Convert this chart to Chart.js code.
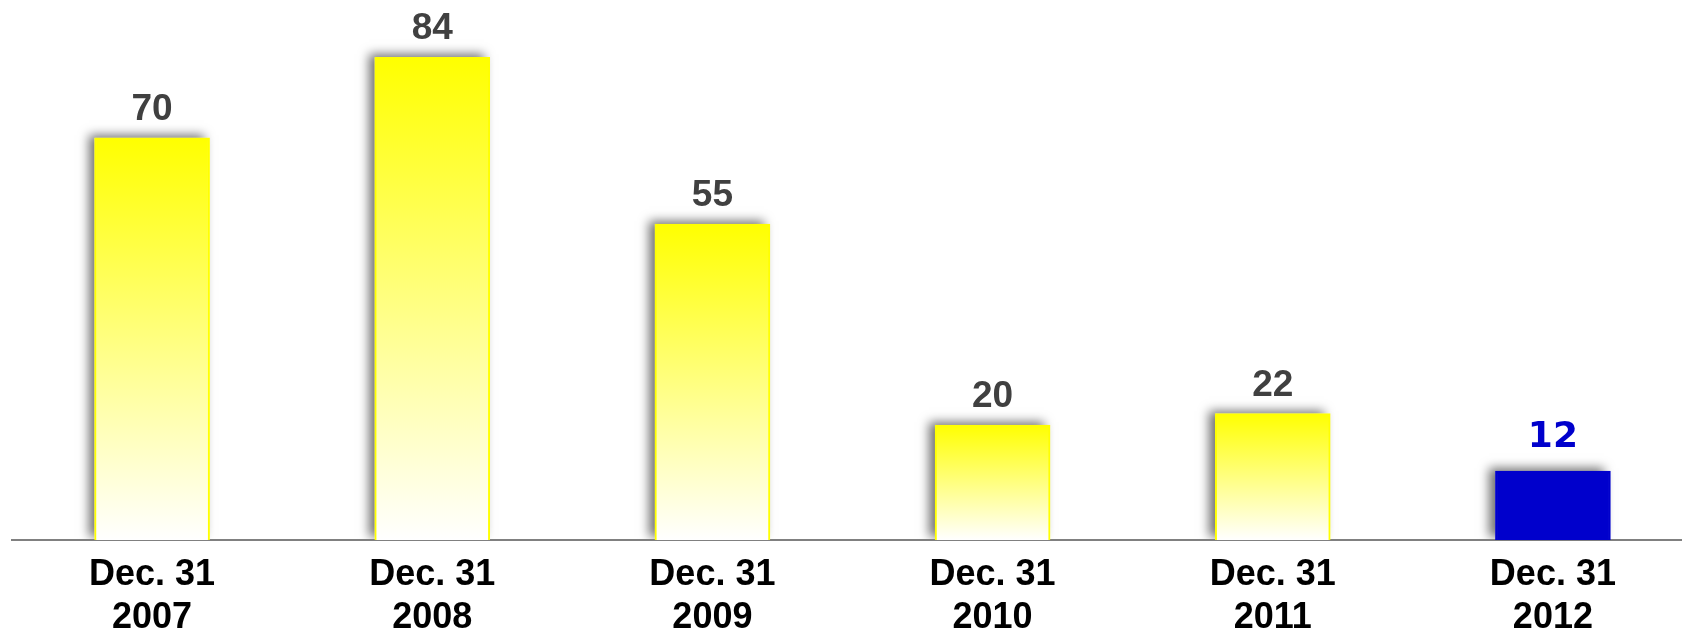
<!DOCTYPE html>
<html>
<head>
<meta charset="utf-8">
<script src="https://cdn.jsdelivr.net/npm/chart.js@4/dist/chart.umd.min.js"></script>
<style>
  html, body { margin: 0; padding: 0; background: #ffffff; overflow: hidden; }
  #wrap { position: relative; width: 1693px; height: 637px; }
</style>
</head>
<body>
<div id="wrap"><canvas id="c"></canvas></div>
<script>
// ---- data ----
const dateLine = 'Dec. 31';
const years = ['2007', '2008', '2009', '2010', '2011', '2012'];
const values = [70, 84, 55, 20, 22, 12];
const highlightIndex = 5;

const categories = years.map(y => [dateLine, y]);

const YELLOW = '#FFFF00';
const BLUE = '#0000CC';

function barFill(ctx) {
  if (ctx.dataIndex === highlightIndex) return BLUE;
  const chart = ctx.chart;
  if (!chart.chartArea || !chart.scales.y) return YELLOW;
  const ys = chart.scales.y;
  const top = ys.getPixelForValue(ctx.raw);
  const bottom = ys.getPixelForValue(0);
  const g = chart.ctx.createLinearGradient(0, top, 0, bottom);
  g.addColorStop(0, YELLOW);
  g.addColorStop(1, '#FFFFFF');
  return g;
}

const shadowPlugin = {
  id: 'barShadow',
  beforeDatasetsDraw(chart) {
    const ctx = chart.ctx;
    const meta = chart.getDatasetMeta(0);
    const ca = chart.chartArea;
    ctx.save();
    ctx.beginPath();
    ctx.rect(ca.left - 20, 0, ca.right - ca.left + 40, ca.bottom - 1);
    ctx.clip();
    meta.data.forEach(bar => {
      const w = bar.width;
      ctx.save();
      ctx.shadowColor = 'rgba(0,0,0,0.55)';
      ctx.shadowBlur = 10;
      ctx.shadowOffsetX = -6;
      ctx.shadowOffsetY = -3;
      ctx.fillStyle = '#ffffff';
      ctx.fillRect(bar.x - w / 2, bar.y, w, bar.base - bar.y);
      ctx.restore();
    });
    ctx.restore();
  }
};

const valueLabelPlugin = {
  id: 'valueLabels',
  afterDatasetsDraw(chart) {
    const ctx = chart.ctx;
    const meta = chart.getDatasetMeta(0);
    ctx.save();
    ctx.textAlign = 'center';
    ctx.textBaseline = 'alphabetic';
    meta.data.forEach((bar, i) => {
      const v = chart.data.datasets[0].data[i];
      if (i === highlightIndex) {
        ctx.fillStyle = BLUE;
        ctx.font = 'bold 36px "DejaVu Sans"';
        ctx.fillText(String(v), bar.x, bar.y - 24);
      } else {
        ctx.fillStyle = '#404040';
        ctx.font = 'bold 37px "Liberation Sans"';
        ctx.fillText(String(v), bar.x, bar.y - 18);
      }
    });
    ctx.restore();
  }
};

new Chart(document.getElementById('c'), {
  type: 'bar',
  data: {
    labels: categories,
    datasets: [{
      data: values,
      backgroundColor: barFill,
      borderColor: (ctx) => ctx.dataIndex === highlightIndex ? BLUE : YELLOW,
      borderWidth: 2,
      borderSkipped: 'bottom',
      barThickness: 115
    }]
  },
  options: {
    responsive: true,
    maintainAspectRatio: false,
    animation: false,
    layout: { padding: { left: 12, right: 0, top: 0, bottom: 0 } },
    plugins: {
      legend: { display: false },
      tooltip: { enabled: false }
    },
    scales: {
      x: {
        afterFit(scale) { scale.height = 97; },
        grid: { display: false, drawTicks: false },
        border: { display: true, color: '#808080', width: 2 },
        ticks: {
          color: '#000000',
          font: { family: '"Liberation Sans", Arial, sans-serif', size: 36, weight: 'bold', lineHeight: 1.194 },
          padding: 14,
          maxRotation: 0,
          autoSkip: false
        }
      },
      y: {
        display: false,
        min: 0,
        max: 94
      }
    }
  },
  plugins: [shadowPlugin, valueLabelPlugin]
});
</script>
</body>
</html>
